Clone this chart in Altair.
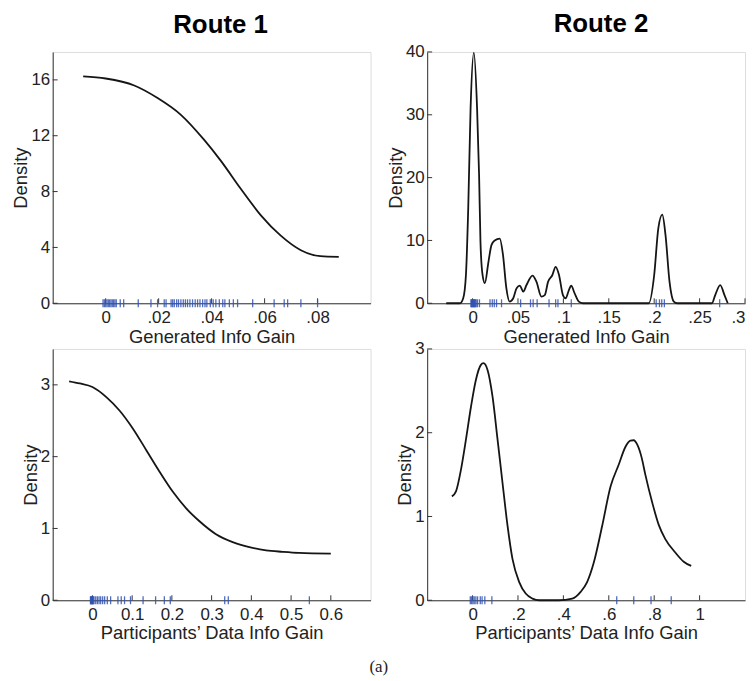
import json
import altair as alt
import pandas as pd

# ---------------- data ----------------
# Route 1, Generated Info Gain
r1_gen_x = [-0.0085, 0.0, 0.0108, 0.0196, 0.0284, 0.0372, 0.0435, 0.051, 0.0586, 0.066, 0.0737, 0.081, 0.088]
r1_gen_y = [16.25, 16.1, 15.6, 14.7, 13.5, 11.7, 10.2, 8.2, 6.3, 4.86, 3.8, 3.37, 3.32]
r1_gen_rug = [-0.001, -0.0005, 0.0, 0.0005, 0.001, 0.0015, 0.002, 0.0025, 0.003, 0.0035, 0.004,
              0.0055, 0.0068, 0.0123, 0.0171, 0.0196, 0.0221, 0.0228, 0.0247, 0.0253, 0.0259,
              0.0268, 0.0275, 0.0284, 0.0293, 0.0301, 0.0309, 0.0318, 0.0328, 0.0338, 0.0347,
              0.0356, 0.0366, 0.0375, 0.0382, 0.0395, 0.0406, 0.0416, 0.0429, 0.0442, 0.045,
              0.0467, 0.0482, 0.0498, 0.0555, 0.0636, 0.0674, 0.0687, 0.0737, 0.08]

# Route 2, Generated Info Gain
r2_gen_x = [-0.029, -0.0139, -0.0103, -0.0073, -0.0048, -0.0022, 0.0014, 0.005, 0.0072, 0.0087,
            0.011, 0.0135, 0.0175, 0.0208, 0.0244, 0.0299, 0.0335, 0.0372, 0.0408, 0.0448,
            0.0485, 0.0521, 0.0558, 0.0594, 0.066, 0.0704, 0.0758, 0.0795, 0.0831, 0.0879,
            0.0915, 0.0952, 0.0995, 0.1024, 0.1061, 0.1086, 0.1123, 0.117, 0.1214, 0.194,
            0.2, 0.2045, 0.2089, 0.2125, 0.2169, 0.2216, 0.2253, 0.2636, 0.2672, 0.2727,
            0.2774, 0.281]
r2_gen_y = [0, 0, 0.8, 4.5, 15, 30.9, 39.9, 30.9, 20.3, 9.8,
            4.5, 3.2, 6.6, 9.25, 10.0, 10.3, 7.7, 2.4, 0.27, 0.8,
            2.4, 2.8, 1.85, 2.9, 4.4, 3.4, 1.06, 1.3, 3.4, 4.5,
            5.8, 4.5, 1.3, 0.8, 2.1, 2.8, 1.6, 0.26, 0, 0,
            4.5, 11.9, 14.1, 10.8, 3.4, 0.26, 0, 0, 1.3, 2.9,
            1.3, 0]
r2_gen_rug = [-0.0018, -0.0012, -0.0007, -0.0002, 0.0004, 0.0009, 0.0014, 0.002, 0.0025, 0.003,
              0.004, 0.0054, 0.0076, 0.0192, 0.0217, 0.0239, 0.0264, 0.0319, 0.0529, 0.0638,
              0.0667, 0.0711, 0.0842, 0.0915, 0.094, 0.1087, 0.2022, 0.2058, 0.2083, 0.2112,
              0.2721]

# Route 1, Participants' Data Info Gain
r1_dat_x = [-0.0586, -0.0318, 0.0, 0.035, 0.0686, 0.102, 0.1356, 0.169, 0.2025, 0.236,
            0.2695, 0.311, 0.353, 0.395, 0.437, 0.479, 0.52, 0.6]
r1_dat_y = [3.05, 3.02, 2.97, 2.83, 2.64, 2.39, 2.09, 1.79, 1.51, 1.28,
            1.10, 0.92, 0.81, 0.74, 0.695, 0.675, 0.66, 0.65]
r1_dat_rug = [-0.005, -0.004, -0.003, -0.002, -0.001, 0.0, 0.001, 0.002, 0.004, 0.0083,
              0.0125, 0.0167, 0.0208, 0.0258, 0.0308, 0.0375, 0.0458, 0.0642, 0.0725, 0.0808,
              0.0958, 0.1275, 0.159, 0.181, 0.196, 0.333, 0.342, 0.546]

# Route 2, Participants' Data Info Gain
r2_dat_x = [-0.091, -0.073, -0.051, -0.029, -0.007, 0.0146, 0.0366, 0.048, 0.066, 0.088,
            0.11, 0.132, 0.154, 0.176, 0.205, 0.234, 0.264, 0.293, 0.38, 0.439,
            0.476, 0.505, 0.534, 0.571, 0.608, 0.644, 0.673, 0.695, 0.71, 0.725,
            0.745, 0.761, 0.791, 0.82, 0.849, 0.893, 0.93, 0.963]
r2_dat_y = [1.24, 1.30, 1.56, 1.92, 2.31, 2.63, 2.81, 2.83, 2.75, 2.43,
            1.92, 1.40, 0.89, 0.49, 0.22, 0.08, 0.02, 0.0, 0.0, 0.02,
            0.1, 0.22, 0.45, 0.89, 1.36, 1.62, 1.83, 1.905, 1.91, 1.86,
            1.70, 1.50, 1.17, 0.90, 0.73, 0.57, 0.46, 0.41]
r2_dat_rug = [-0.01, -0.004, 0.0015, 0.0073, 0.0146, 0.022, 0.034, 0.042, 0.054, 0.085,
              0.635, 0.71, 0.786, 0.875]

# axis ticks and labels
p1_xticks = [0, 0.02, 0.04, 0.06, 0.08]
p1_xlabels = ["0", ".02", ".04", ".06", ".08"]
p1_yticks = [0, 4, 8, 12, 16]
p2_xticks = [0, 0.05, 0.1, 0.15, 0.2, 0.25, 0.3]
p2_xlabels = ["0", ".05", ".1", ".15", ".2", ".25", ".3"]
p2_yticks = [0, 10, 20, 30, 40]
p3_xticks = [0, 0.1, 0.2, 0.3, 0.4, 0.5, 0.6]
p3_xlabels = ["0", "0.1", "0.2", "0.3", "0.4", "0.5", "0.6"]
p3_yticks = [0, 1, 2, 3]
p4_xticks = [0, 0.2, 0.4, 0.6, 0.8, 1]
p4_xlabels = ["0", ".2", ".4", ".6", ".8", "1"]
p4_yticks = [0, 1, 2, 3]

W, H = 320, 253
FONT = "Liberation Sans"
TXT = "#222222"


def panel(cx, cy, rug, xdom, ydom, xticks, xlabels, yticks, xtitle,
          title=None, title_dx=0, title_offset=10, flush=False):
    curve = pd.DataFrame({"x": cx, "y": cy})
    rugdf = pd.DataFrame({"x": rug, "y": [0] * len(rug)})
    label_expr = f"{json.dumps(xlabels)}[indexof({json.dumps(xticks)}, datum.value)]"
    xenc = alt.X("x:Q", scale=alt.Scale(domain=xdom, nice=False, zero=False),
                 axis=alt.Axis(values=xticks, labelExpr=label_expr, title=xtitle,
                               ticks=False, grid=False, labelPadding=6, titlePadding=2,
                               labelFlush=flush, labelFont=FONT, labelFontSize=17,
                               titleFont=FONT, titleFontSize=18.5, titleFontWeight="normal",
                               labelColor=TXT, titleColor=TXT, domainColor="#333333"))
    yenc = alt.Y("y:Q", scale=alt.Scale(domain=ydom, nice=False, zero=False),
                 axis=alt.Axis(values=yticks, title="Density", ticks=False, grid=False,
                               labelPadding=3, titlePadding=0, labelFlush=False,
                               labelFont=FONT, labelFontSize=17, titleFont=FONT,
                               titleFontSize=18.5, titleFontWeight="normal",
                               labelColor=TXT, titleColor=TXT, domainColor="#333333"))
    line = alt.Chart(curve).mark_line(interpolate="monotone", color="#151515",
                                      strokeWidth=1.8).encode(x=xenc, y=yenc)
    rugs = alt.Chart(rugdf).mark_tick(orient="vertical", size=8, thickness=1.3,
                                      color="#3152b3", opacity=0.85).encode(x=xenc, y=yenc)
    xt = alt.Chart(pd.DataFrame({"x": xticks})).mark_rule(
        color="#333333", strokeWidth=1).encode(x=xenc, y=alt.value(H), y2=alt.value(H - 5))
    yt = alt.Chart(pd.DataFrame({"y": yticks})).mark_rule(
        color="#333333", strokeWidth=1).encode(y=yenc, x=alt.value(0), x2=alt.value(5))
    ch = alt.layer(xt, yt, rugs, line).properties(width=W, height=H)
    if title:
        ch = ch.properties(title=alt.TitleParams(title, font=FONT, fontSize=26,
                                                 fontWeight="bold", color="black",
                                                 anchor="middle", dx=title_dx,
                                                 offset=title_offset))
    return ch


p1 = panel(r1_gen_x, r1_gen_y, r1_gen_rug, [-0.02, 0.1], [0, 18], p1_xticks, p1_xlabels,
           p1_yticks, "Generated Info Gain", title="Route 1", title_dx=9, title_offset=14)
p2 = panel(r2_gen_x, r2_gen_y, r2_gen_rug, [-0.05, 0.3], [0, 40], p2_xticks, p2_xlabels,
           p2_yticks, "Generated Info Gain", title="Route 2", title_dx=15, title_offset=6,
           flush=True)
p3 = panel(r1_dat_x, r1_dat_y, r1_dat_rug, [-0.1, 0.7], [0, 3.5], p3_xticks, p3_xlabels,
           p3_yticks, "Participants\u2019 Data Info Gain")
p4 = panel(r2_dat_x, r2_dat_y, r2_dat_rug, [-0.2, 1.2], [0, 3], p4_xticks, p4_xlabels,
           p4_yticks, "Participants\u2019 Data Info Gain")

chart = alt.concat(p1, p2, p3, p4, columns=2, bounds="flush",
                   spacing={"row": 46, "column": 57}).properties(
    title=alt.TitleParams("(a)", orient="bottom", anchor="middle", font="Liberation Serif",
                          fontSize=17, fontWeight="normal", color="#222222", offset=16),
    padding={"left": 3, "top": 0, "right": 0, "bottom": 0},
).configure_view(stroke=None).configure(background="white")

chart.save("out.html", embed_options={"renderer": "svg", "actions": False})
